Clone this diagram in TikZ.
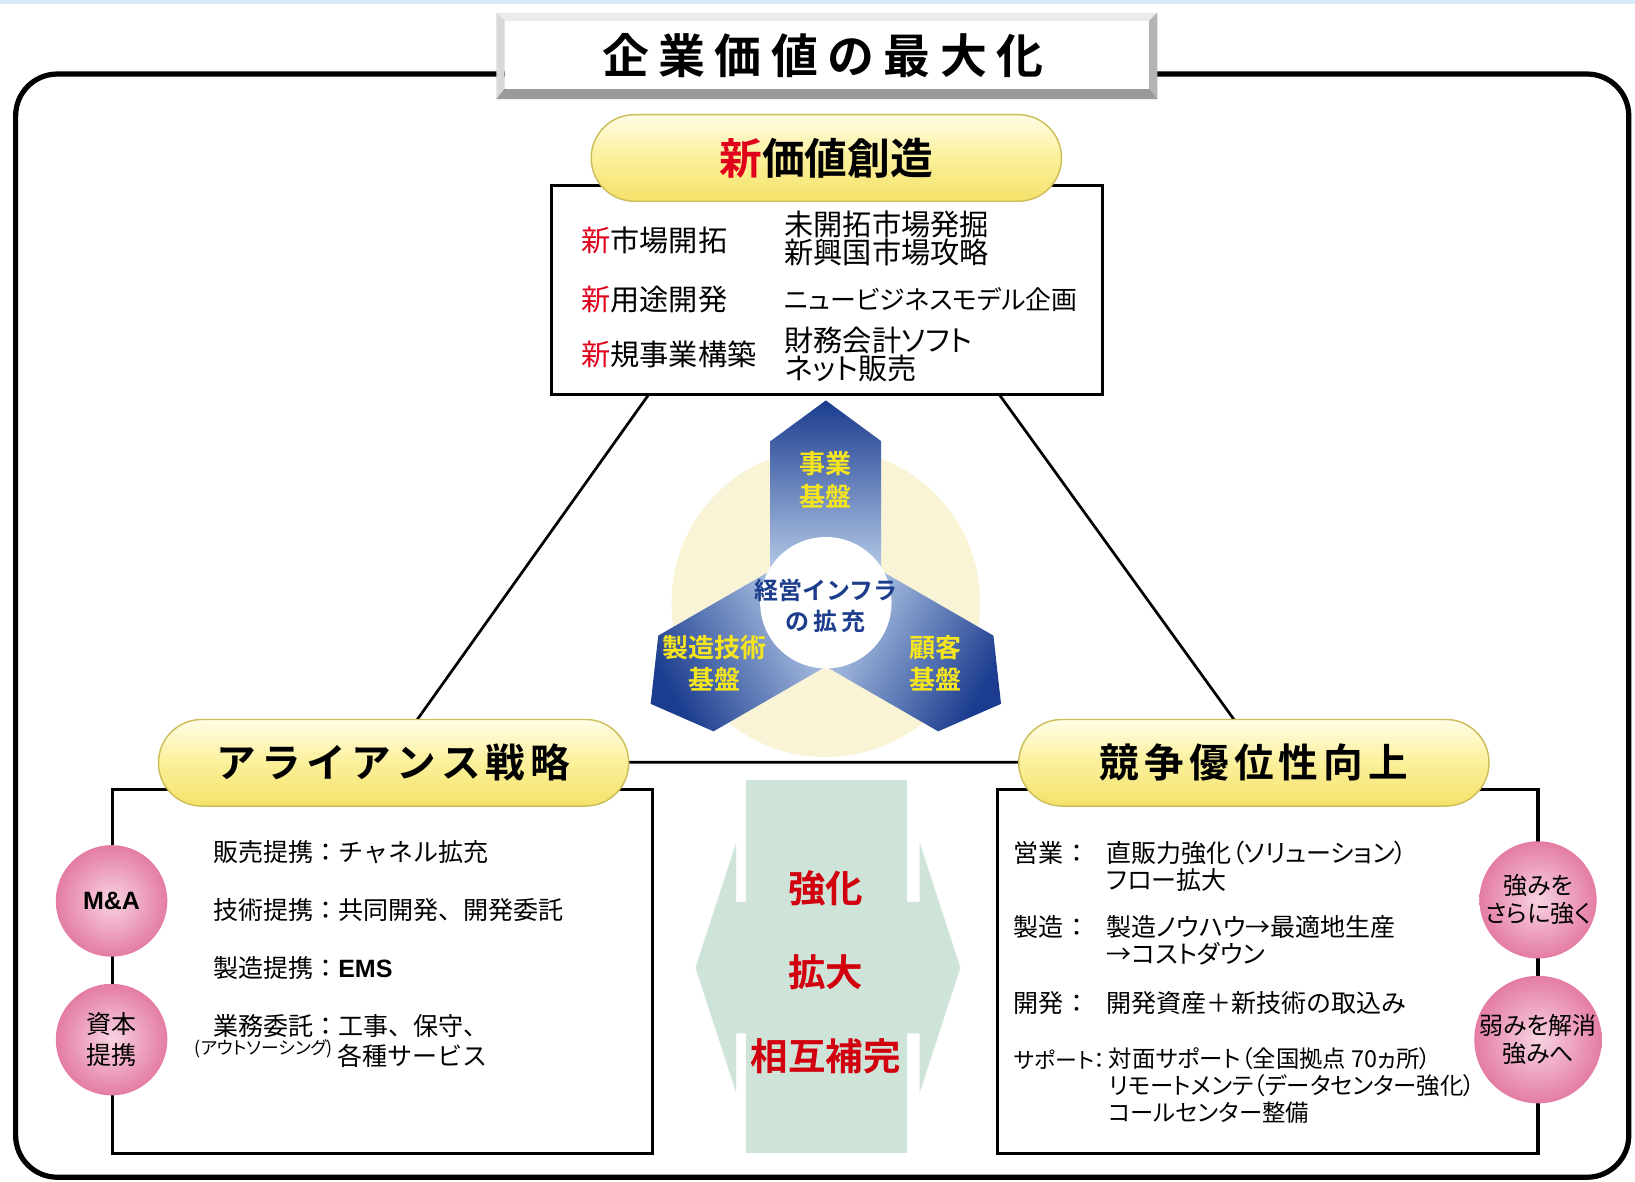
\documentclass[tikz,border=0pt]{standalone}
\usepackage{fontspec}
\setmainfont{Noto Sans CJK JP}[BoldFont={Noto Sans CJK JP Bold}]
\newfontfamily\jpprop{Noto Sans CJK JP}[RawFeature=+palt,BoldFont={Noto Sans CJK JP Bold}]
\newfontfamily\arialfont{Liberation Sans}
\usetikzlibrary{calc}

\definecolor{skyband}{HTML}{D6EAF8}
\definecolor{plateTop}{HTML}{EBEBEB}
\definecolor{plateSide}{HTML}{D9D9D9}
\definecolor{plateRight}{HTML}{B4B4B4}
\definecolor{plateBottom}{HTML}{9A9A9A}
\definecolor{capTop}{HTML}{FFFDE6}
\definecolor{capMid}{HTML}{FBF09A}
\definecolor{capBot}{HTML}{F4E26A}
\definecolor{capLine}{HTML}{CDBE5A}
\definecolor{newRed}{HTML}{E0001B}
\definecolor{cream}{HTML}{F9F4D6}
\definecolor{hubDark}{HTML}{1B3C8F}
\definecolor{hubLight}{HTML}{D2E5F8}
\definecolor{hubText}{HTML}{F5E51F}
\definecolor{hubBlue}{HTML}{1C3C8C}
\definecolor{ballIn}{HTML}{F8D3E2}
\definecolor{ballOut}{HTML}{E47CA4}
\definecolor{mint}{HTML}{CFE4D9}
\definecolor{redText}{HTML}{D2000F}

\newcommand{\tgap}{\hspace{4.5pt}}
\newcommand{\cgap}{\hspace{2.5pt}}

\begin{document}
\begin{tikzpicture}[x=0.5pt,y=-0.5pt,
    capsule/.style={draw=capLine,line width=0.7pt,top color=capTop,bottom color=capBot,middle color=capMid,
      minimum width=225.5pt,minimum height=41.5pt,rounded corners=20.7pt,inner sep=0pt},
    infobox/.style={draw,line width=1.5pt,fill=white,inner sep=0pt},
    ball/.style={circle,inner sep=0pt,minimum size=53.5pt,inner color=ballIn,outer color=ballOut,align=center},
    body/.style={inner sep=0pt,anchor=west,font=\fontsize{12}{13}\selectfont,align=left},
    newline/.style={inner sep=0pt,anchor=west,font=\fontsize{14}{13.5}\selectfont,align=left},
    hubtext/.style={text=hubText,font=\bfseries\fontsize{12.5}{15.5}\selectfont,align=center,inner sep=0pt},
    bigred/.style={text=redText,font=\bfseries\fontsize{18}{18}\selectfont,inner sep=0pt}]
  \useasboundingbox (0,0) rectangle (1568,1133);
  \fill[white] (0,0) rectangle (1568,1133);
  \fill[skyband] (0,0) rectangle (1568,4);

  % outer frame
  \draw[line width=2.5pt,rounded corners=20pt] (15,71) rectangle (1562,1129);

  % title plate
  \fill[plateTop] (476,12) -- (1110,12) -- (1102,20) -- (484,20) -- cycle;
  \fill[plateSide] (476,12) -- (484,20) -- (484,85) -- (476,95) -- cycle;
  \fill[plateRight] (1110,12) -- (1110,95) -- (1102,85) -- (1102,20) -- cycle;
  \fill[plateBottom] (476,95) -- (1110,95) -- (1102,85) -- (484,85) -- cycle;
  \fill[white] (484,20) rectangle (1102,85);
  \node[inner sep=0pt,font=\bfseries\fontsize{22.5}{22.5}\selectfont] (title) at (789,53)
    {企\tgap 業\tgap 価\tgap 値\tgap の\tgap 最\tgap 大\tgap 化};

  % triangle
  \coordinate (apex) at (789,144);
  \coordinate (baseL) at (371,731);
  \coordinate (baseR) at (1213,731);
  \draw[line width=1.3pt] (apex) -- (baseL) -- (baseR) -- cycle;

  % hub
  \coordinate (hub) at (792,578);
  \fill[cream] (hub) circle [radius=74pt];
  \foreach \a/\s in {90/0,210/120,330/240}
    \shade[top color=hubDark,bottom color=hubLight,shading angle=\s]
      ($(hub)+(-\a+90:53)$) -- ($(hub)+(-\a+18.88:163.8)$) -- ($(hub)+(-\a:194)$)
      -- ($(hub)+(-\a-18.88:163.8)$) -- ($(hub)+(-\a-90:53)$) -- cycle;
  \fill[white] (hub) circle [radius=31.5pt];
  \node[hubtext] (bizBase) at (792,460) {事業\\基盤};
  \node[hubtext] (techBase) at (685,636) {製造技術\\基盤};
  \node[hubtext] (custBase) at (897,636) {顧客\\基盤};
  \node[text=hubBlue,font=\bfseries\fontsize{11.5}{15}\selectfont,align=center,inner sep=0pt] (infra) at (792,581)
    {経営インフラ\\の\,拡\,充};

  % boxes
  \node[infobox,minimum width=264pt,minimum height=100pt] (valueBox) at (793,278) {};
  \node[infobox,minimum width=259pt,minimum height=174.5pt] (allianceBox) at (367,931.5) {};
  \node[infobox,minimum width=259pt,minimum height=174.5pt] (edgeBox) at (1216,931.5) {};

  % capsules
  \node[capsule,font=\bfseries\fontsize{20.5}{20.5}\selectfont] (valueCap) at (792.5,151.5)
    {\textcolor{newRed}{新}価値創造};
  \node[capsule,font=\bfseries\fontsize{19}{19}\selectfont] (allianceCap) at (377.5,731.5)
    {ア\cgap ラ\cgap イ\cgap ア\cgap ン\cgap ス\cgap 戦\cgap 略};
  \node[capsule,font=\bfseries\fontsize{19}{19}\selectfont] (edgeCap) at (1202.5,731.5)
    {競\cgap 争\cgap 優\cgap 位\cgap 性\cgap 向\cgap 上};

  % new value
  \node[newline] (n1) at (557,231) {\textcolor{newRed}{新}市場開拓};
  \node[newline] (n2) at (557,287) {\textcolor{newRed}{新}用途開発};
  \node[newline] (n3) at (557,340) {\textcolor{newRed}{新}規事業構築};
  \node[newline] (d1) at (752,229) {未開拓市場発掘\\新興国市場攻略};
  \node[newline,font=\jpprop\fontsize{12.4}{13.5}\selectfont] (d2) at (752,287) {ニュービジネスモデル企画};
  \node[newline,font=\jpprop\fontsize{14}{13.5}\selectfont] (d3) at (752,340) {財務会計ソフト\\ネット販売};

  % alliance
  \node[body] (a1) at (204,817) {販売提携：チャネル拡充};
  \node[body] (a2) at (204,873) {技術提携：共同開発、開発委託};
  \node[body] (a3) at (204,928) {製造提携：{\arialfont\bfseries EMS}};
  \node[body] (a4) at (204,984) {業務委託：工事、保守、};
  \node[inner sep=0pt,font=\jpprop\fontsize{8.5}{9}\selectfont] (a5) at (253,1006) {(アウトソーシング)};
  \node[body] (a6) at (323,1013) {各種サービス};

  % competitive edge
  \node[body] (k1) at (972,818) {営業：};
  \node[body] (k2) at (972,889) {製造：};
  \node[body] (k3) at (972,962) {開発：};
  \node[body,font=\jpprop\fontsize{10.5}{13}\selectfont] (k4) at (972,1016) {サポート：};
  \node[body,font=\jpprop\fontsize{12}{13}\selectfont] (v1) at (1061,831) {直販力強化（ソリューション）\\フロー拡大};
  \node[body,font=\jpprop\fontsize{12}{13}\selectfont] (v2) at (1061,902) {製造ノウハウ→最適地生産\\→コストダウン};
  \node[body,font=\jpprop\fontsize{12}{13}\selectfont] (v3) at (1061,962) {開発資産＋新技術の取込み};
  \node[body,font=\jpprop\fontsize{11.2}{13}\selectfont] (v4) at (1063,1041)
    {対面サポート（全国拠点 70ヵ所）\\リモートメンテ（データセンター強化）\\コールセンター整備};

  % balls
  \node[ball,font=\arialfont\bfseries\fontsize{12}{12}\selectfont] (maBall) at (107,864) {M\&A};
  \node[ball,font=\fontsize{12}{15}\selectfont] (capitalBall) at (107,997) {資本\\提携};
  \node[ball,font=\jpprop\fontsize{11.5}{13.5}\selectfont] (strongBall) at (1475,863) {強みを\\さらに強く};
  \node[ball,font=\jpprop\fontsize{11.5}{13.5}\selectfont] (weakBall) at (1475,997) {弱みを解消\\強みへ};

  % two-way arrow
  \fill[mint] (667,928) -- (706,808) -- (706,865) -- (882,865) -- (882,808) -- (921,928)
    -- (882,1048) -- (882,991) -- (706,991) -- (706,1048) -- cycle;
  \fill[mint] (715,748) rectangle (870,1106);
  \node[bigred] (w1) at (792,852) {強化};
  \node[bigred] (w2) at (792,932) {拡大};
  \node[bigred] (w3) at (792,1013) {相互補完};
\end{tikzpicture}
\end{document}
